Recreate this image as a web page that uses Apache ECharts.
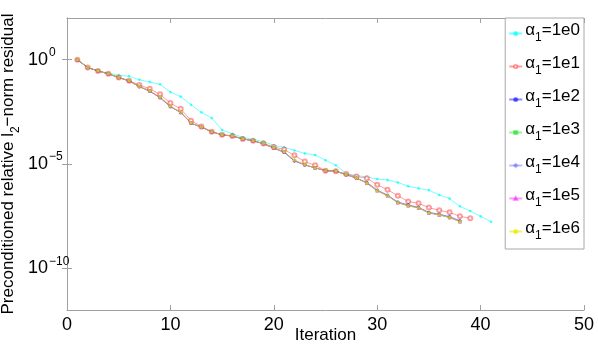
<!DOCTYPE html>
<html>
<head>
<meta charset="utf-8">
<script src="https://cdn.jsdelivr.net/npm/echarts@6/dist/echarts.min.js"></script>
<style>
html, body { margin: 0; padding: 0; background: #fff; }
#main { width: 598px; height: 346px; }
</style>
</head>
<body>
<div id="main"></div>
<script>
// alpha_1 values (legend) and residual per iteration (iteration = index + 1)
var alphaLabels = ['1e0', '1e1', '1e2', '1e3', '1e4', '1e5', '1e6'];
var yTickValues = [1, 1e-5, 1e-10];
var xTickMax = 50;

var res1e0 = [1, 4.2e-1, 2.9e-1, 2.3e-1, 1.8e-1, 1.6e-1, 1.1e-1, 8.5e-2, 6.6e-2, 2.8e-2,
    1.7e-2, 6.9e-3, 3.0e-3, 1.6e-3, 4.3e-4, 2.8e-4, 1.9e-4, 1.5e-4, 1.2e-4, 7.8e-5,
    6.3e-5, 4.5e-5, 3.2e-5, 2.7e-5, 1.5e-5, 8.7e-6, 3.5e-6, 2.8e-6, 2.4e-6, 1.9e-6,
    1.7e-6, 1.3e-6, 8.5e-7, 6.8e-7, 5.5e-7, 3.3e-7, 2.2e-7, 9.3e-8, 5.6e-8, 3.1e-8, 1.7e-8];
var res1e1 = [1, 4.2e-1, 2.9e-1, 2.1e-1, 1.4e-1, 9.8e-2, 6.2e-2, 4.0e-2, 2.2e-2, 8.3e-3,
    4.4e-3, 1.2e-3, 6.3e-4, 3.5e-4, 2.5e-4, 2.2e-4, 1.6e-4, 1.3e-4, 9.5e-5, 6.6e-5,
    4.9e-5, 2.6e-5, 1.3e-5, 8.7e-6, 4.8e-6, 4.5e-6, 3.3e-6, 2.5e-6, 2.1e-6, 1.0e-6,
    5.9e-7, 3.0e-7, 1.6e-7, 1.3e-7, 8.1e-8, 6.0e-8, 4.8e-8, 3.1e-8, 2.5e-8];
var res1e2 = [1, 4.2e-1, 2.9e-1, 2.1e-1, 1.4e-1, 9.6e-2, 5.1e-2, 3.1e-2, 1.5e-2, 5.6e-3,
    2.9e-3, 9.0e-4, 5.8e-4, 3.5e-4, 2.5e-4, 2.2e-4, 1.6e-4, 1.3e-4, 9.3e-5, 5.7e-5,
    3.6e-5, 1.4e-5, 9.0e-6, 6.5e-6, 4.8e-6, 4.5e-6, 3.1e-6, 2.1e-6, 1.3e-6, 5.6e-7,
    3.2e-7, 1.5e-7, 1.1e-7, 8.3e-8, 4.8e-8, 3.9e-8, 3.0e-8, 1.9e-8];
var res1e3 = [1, 4.2e-1, 2.9e-1, 2.1e-1, 1.4e-1, 9.8e-2, 5.2e-2, 3.2e-2, 1.6e-2, 5.8e-3,
    3.0e-3, 9.3e-4, 5.8e-4, 3.5e-4, 2.5e-4, 2.2e-4, 1.6e-4, 1.3e-4, 9.5e-5, 5.9e-5,
    3.8e-5, 1.5e-5, 9.3e-6, 6.5e-6, 4.8e-6, 4.5e-6, 3.1e-6, 2.1e-6, 1.2e-6, 5.2e-7,
    3.0e-7, 1.4e-7, 1.0e-7, 7.8e-8, 4.5e-8, 3.6e-8, 2.7e-8, 1.7e-8];
var res1e4 = [1, 4.2e-1, 2.9e-1, 2.1e-1, 1.4e-1, 9.7e-2, 5.1e-2, 3.1e-2, 1.5e-2, 5.7e-3,
    2.9e-3, 9.1e-4, 5.8e-4, 3.5e-4, 2.5e-4, 2.2e-4, 1.6e-4, 1.3e-4, 9.4e-5, 5.8e-5,
    3.7e-5, 1.4e-5, 9.1e-6, 6.5e-6, 4.8e-6, 4.5e-6, 3.1e-6, 2.1e-6, 1.2e-6, 5.4e-7,
    3.1e-7, 1.4e-7, 1.0e-7, 8.0e-8, 4.6e-8, 3.7e-8, 2.8e-8, 1.8e-8];
var res1e5 = [1, 4.2e-1, 2.9e-1, 2.1e-1, 1.4e-1, 9.8e-2, 5.2e-2, 3.2e-2, 1.6e-2, 5.8e-3,
    3.0e-3, 9.3e-4, 5.8e-4, 3.5e-4, 2.5e-4, 2.2e-4, 1.6e-4, 1.3e-4, 9.5e-5, 5.9e-5,
    3.8e-5, 1.5e-5, 9.3e-6, 6.5e-6, 4.8e-6, 4.5e-6, 3.1e-6, 2.1e-6, 1.2e-6, 5.2e-7,
    3.0e-7, 1.4e-7, 1.0e-7, 7.8e-8, 4.5e-8, 3.6e-8, 2.7e-8, 1.7e-8];
var res1e6 = [1, 4.2e-1, 2.9e-1, 2.1e-1, 1.4e-1, 9.8e-2, 5.2e-2, 3.2e-2, 1.6e-2, 5.8e-3,
    3.0e-3, 9.3e-4, 5.8e-4, 3.5e-4, 2.5e-4, 2.2e-4, 1.6e-4, 1.3e-4, 9.5e-5, 5.9e-5,
    3.8e-5, 1.5e-5, 9.3e-6, 6.5e-6, 4.8e-6, 4.5e-6, 3.1e-6, 2.1e-6, 1.2e-6, 5.2e-7,
    3.0e-7, 1.4e-7, 1.0e-7, 7.8e-8, 4.5e-8, 3.6e-8, 2.7e-8, 1.7e-8];

var allRes = [res1e0, res1e1, res1e2, res1e3, res1e4, res1e5, res1e6];
var colors = ['rgba(0,255,255,0.55)', 'rgba(255,0,0,0.38)', 'rgba(0,0,255,0.45)',
    'rgba(0,220,0,0.4)', 'rgba(90,90,255,0.4)', 'rgba(255,0,255,0.4)', 'rgba(235,235,0,0.6)'];
var symbols = ['circle', 'emptyCircle', 'circle', 'rect', 'diamond', 'triangle', 'circle'];
var symbolSizes = [2, 4, 2.5, 2.5, 3, 3, 2.5];

var font = 'Liberation Sans, Arial, Helvetica, sans-serif';
var axisGray = '#a0a0a0';

var myChart = echarts.init(document.getElementById('main'));

var series = [];
for (var k = 0; k < alphaLabels.length; k++) {
    series.push({
        name: alphaLabels[k],
        type: 'line',
        data: allRes[k].map(function (v, i) { return [i + 1, v]; }),
        symbol: symbols[k],
        symbolSize: symbolSizes[k],
        showSymbol: true,
        lineStyle: { width: 1, color: colors[k] },
        itemStyle: { color: colors[k], borderColor: colors[k], borderWidth: 1 },
        emphasis: { disabled: true },
        animation: false
    });
}

function supLabel(v) {
    var e = Math.round(Math.log10(v));
    var s = e < 0 ? '\u2212' + (-e) : String(e);
    return '{b|10}{s|' + s + '}';
}

// subscript: main text at the top of the line, small text pushed down
var subRich = {
    a: { fontSize: 17, fontFamily: font, color: '#000', verticalAlign: 'top', padding: [0, 0, 6, 0] },
    s: { fontSize: 12, fontFamily: font, color: '#000', verticalAlign: 'top', padding: [10, 0, 0, 0] }
};

var option = {
    backgroundColor: '#fff',
    animation: false,
    grid: { left: 67, right: 14, top: 18, bottom: 36, containLabel: false, outerBoundsMode: 'none' },
    legend: {
        orient: 'vertical',
        right: 14,
        top: 18,
        padding: [4, 4, 7, 3],
        backgroundColor: '#fff',
        borderColor: '#a8a8a8',
        borderWidth: 1,
        borderRadius: 0,
        itemWidth: 13,
        itemHeight: 4,
        itemGap: 11,
        formatter: function (name) { return '{a|\u03b1}{s|1}{a|=' + name + '}'; },
        textStyle: { padding: [0, 0, 0, -2], rich: subRich }
    },
    xAxis: [{
        type: 'value',
        min: 0, max: xTickMax, interval: 10,
        name: 'Iteration',
        nameLocation: 'middle',
        nameGap: 17,
        nameMoveOverlap: false,
        nameTextStyle: { fontSize: 17, fontFamily: font, color: '#000' },
        axisLine: { lineStyle: { color: axisGray, width: 1 } },
        axisTick: { inside: true, length: 5, lineStyle: { color: axisGray } },
        axisLabel: { fontSize: 18, fontFamily: font, color: '#000', margin: 6 },
        splitLine: { show: false }
    }, {
        type: 'value',
        position: 'top',
        min: 0, max: xTickMax, interval: 10,
        axisLine: { show: true, lineStyle: { color: axisGray, width: 1 } },
        axisTick: { inside: true, length: 5, lineStyle: { color: axisGray } },
        axisLabel: { show: false },
        splitLine: { show: false }
    }],
    yAxis: [{
        type: 'log',
        logBase: 10,
        min: 1e-12, max: 1e2,
        name: '{a|Preconditioned relative l}{s|2}{a|\u2212norm residual}',
        nameLocation: 'middle',
        nameRotate: 90,
        nameGap: 44,
        nameMoveOverlap: false,
        nameTextStyle: { rich: subRich },
        axisLine: { show: true, lineStyle: { color: axisGray, width: 1 } },
        axisTick: { show: true, inside: true, length: 5, customValues: yTickValues, lineStyle: { color: axisGray } },
        axisLabel: {
            customValues: yTickValues,
            align: 'left',
            margin: 39,
            formatter: supLabel,
            rich: {
                b: { fontSize: 18, fontFamily: font, color: '#000' },
                s: { fontSize: 12, fontFamily: font, color: '#000', padding: [0, 0, 14, 1] }
            }
        },
        splitLine: { show: false },
        minorTick: { show: false }
    }, {
        type: 'log',
        logBase: 10,
        position: 'right',
        min: 1e-12, max: 1e2,
        axisLine: { show: true, lineStyle: { color: axisGray, width: 1 } },
        axisTick: { show: true, inside: true, length: 5, customValues: yTickValues, lineStyle: { color: axisGray } },
        axisLabel: { show: false, customValues: yTickValues },
        splitLine: { show: false }
    }],
    series: series
};

myChart.setOption(option);
</script>
</body>
</html>
